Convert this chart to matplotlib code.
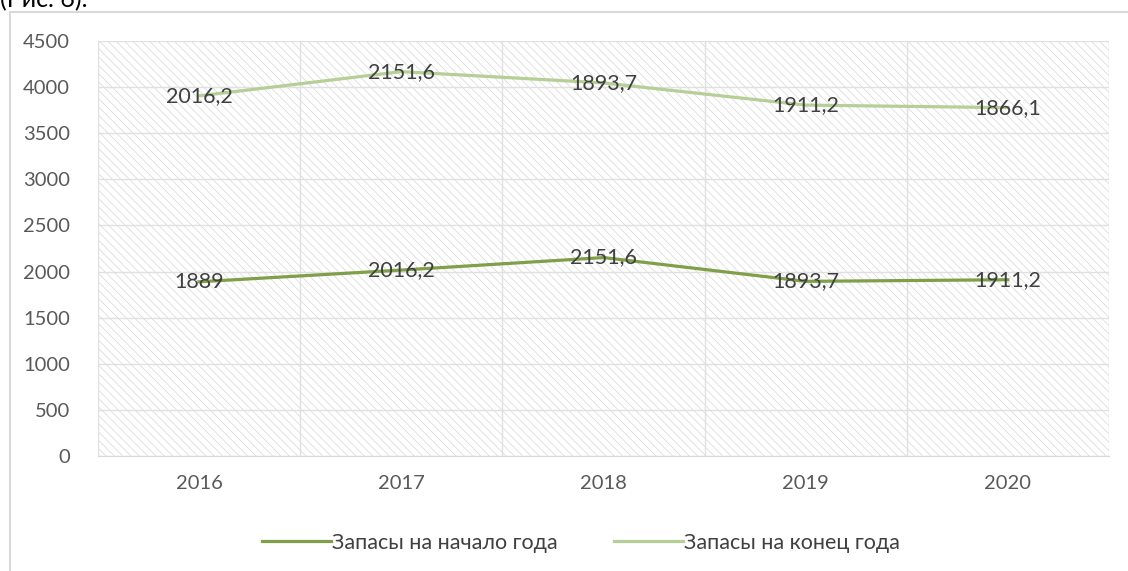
import numpy as np
import matplotlib.pyplot as plt
from matplotlib.patches import Rectangle

plt.rcParams['font.family'] = ['Lato', 'DejaVu Sans']
plt.rcParams['hatch.linewidth'] = 0.5
plt.rcParams['hatch.color'] = '#d6d6d6'

# данные (линейный график с накоплением)
years = ['2016', '2017', '2018', '2019', '2020']
start_stock = [1889, 2016.2, 2151.6, 1893.7, 1911.2]
end_stock = [2016.2, 2151.6, 1893.7, 1911.2, 1866.1]
yticks = [0, 500, 1000, 1500, 2000, 2500, 3000, 3500, 4000, 4500]

c_start = '#7f9f48'
c_end = '#b6cf96'
txt = '#404040'

fig = plt.figure(figsize=(11.28, 5.71), dpi=100)
ax = fig.add_axes([98 / 1128, 1 - 456 / 571, 1011 / 1128, 415 / 571])

# рамка области диаграммы
fig.patches.append(Rectangle((10 / 1128, -0.01), 1.2, 1 - 12 / 571 + 0.01,
                             transform=fig.transFigure, fill=False,
                             edgecolor='#d9d9d9', linewidth=1.5))
fig.text(0.0, 1.0, '(Рис. 6).', fontsize=18, color='#000000',
         ha='left', va='center')

x = np.arange(len(years))
top = np.array(start_stock) + np.array(end_stock)

ax.add_patch(Rectangle((-0.5, 0), 5, 4500, facecolor='white', hatch='\\\\\\\\',
                       edgecolor='#d6d6d6', linewidth=0, zorder=0))
ax.plot(x, start_stock, color=c_start, lw=2.3, label='Запасы на начало года', zorder=3)
ax.plot(x, top, color=c_end, lw=2.3, label='Запасы на конец года', zorder=3)

for xi, yi, v in zip(x, start_stock, start_stock):
    ax.text(xi, yi, f'{v:g}'.replace('.', ','), ha='center', va='center',
            fontsize=15.5, color=txt, zorder=4)
for xi, yi, v in zip(x, top, end_stock):
    ax.text(xi, yi, f'{v:g}'.replace('.', ','), ha='center', va='center',
            fontsize=15.5, color=txt, zorder=4)

ax.set_xlim(-0.5, 4.5)
ax.set_ylim(0, 4500)
ax.set_xticks(x)
ax.set_xticklabels(years)
ax.set_xticks(np.arange(-0.5, 4.6, 0.5), minor=True)
ax.set_yticks(yticks)
ax.tick_params(axis='both', which='both', length=0, labelsize=14.5, colors='#595959')
ax.tick_params(axis='x', pad=14)
ax.tick_params(axis='y', pad=20)
ax.grid(True, which='minor', axis='x', color='#e0e0e0', lw=1, zorder=1)
ax.grid(True, which='major', axis='y', color='#e0e0e0', lw=1, zorder=1)
ax.set_axisbelow(True)
for s in ['top', 'right', 'left']:
    ax.spines[s].set_visible(False)
ax.spines['bottom'].set_color('#d9d9d9')

fig.legend(loc='center', bbox_to_anchor=(0.515, 1 - 543 / 571), ncol=2, frameon=False,
           fontsize=15.5, labelcolor=txt, handlelength=3.2, handletextpad=0.05,
           columnspacing=2.6)

fig.savefig('out.png', dpi=100)
